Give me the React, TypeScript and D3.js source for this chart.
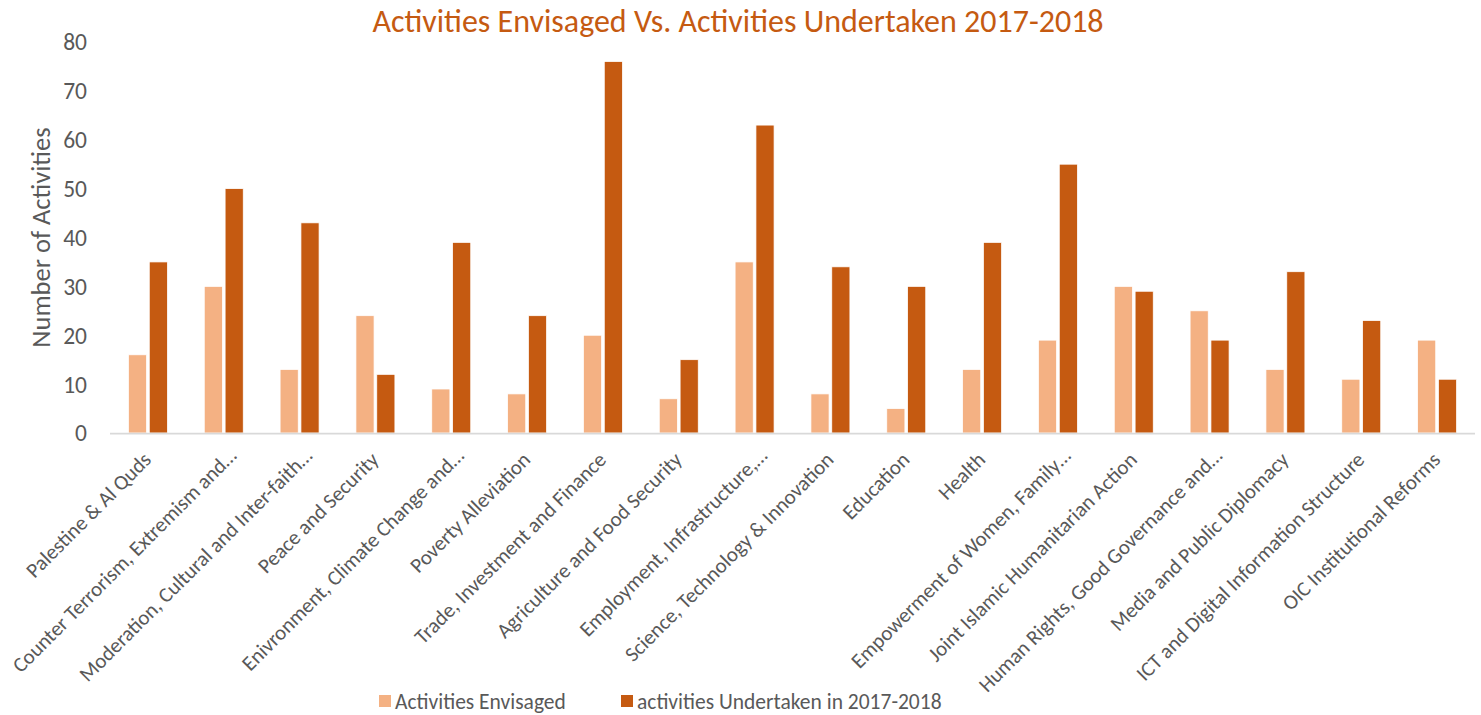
import React from "react";
import * as d3 from "d3";

const categories = [
  "Palestine & Al Quds",
  "Counter Terrorism, Extremism and…",
  "Moderation, Cultural and Inter-faith…",
  "Peace and Security",
  "Enivronment, Climate Change and…",
  "Poverty Alleviation",
  "Trade, Investment and Finance",
  "Agriculture and Food Security",
  "Employment, Infrastructure,…",
  "Science, Technology & Innovation",
  "Education",
  "Health",
  "Empowerment of Women, Family…",
  "Joint Islamic Humanitarian Action",
  "Human Rights, Good Governance and…",
  "Media and Public Diplomacy",
  "ICT and Digital Information Structure",
  "OIC Institutional Reforms",
];

const envisaged = [16, 30, 13, 24, 9, 8, 20, 7, 35, 8, 5, 13, 19, 30, 25, 13, 11, 19];
const undertaken = [35, 50, 43, 12, 39, 24, 76, 15, 63, 34, 30, 39, 55, 29, 19, 33, 23, 11];

const seriesNames = ["Activities Envisaged", "activities Undertaken in 2017-2018"];
const seriesColors = ["#F4B183", "#C55A11"];
const yTicks = [0, 10, 20, 30, 40, 50, 60, 70, 80];

const W = 1481;
const H = 715;
const FONT = "Calibri, Carlito, Lato, 'Open Sans', sans-serif";
const TEXT = "#595959";

export default function App() {
  const left = 110;
  const right = 1475;
  const x = d3.scaleBand<string>().domain(categories).range([left, right]).padding(0);
  const y = d3.scaleLinear().domain([0, 80]).range([433, 42]);
  const step = x.bandwidth();
  const inner = d3
    .scaleBand<number>()
    .domain([0, 1])
    .range([-step * 0.257, step * 0.257])
    .paddingInner(0.13);
  const series = [envisaged, undertaken];

  return (
    <svg
      width={W}
      height={H}
      style={{ position: "absolute", left: 0, top: 0, background: "#fff" }}
      fontFamily={FONT}
    >
      <text x={738} y={32} textAnchor="middle" fontSize={32} fill="#C55A11">
        Activities Envisaged Vs. Activities Undertaken 2017-2018
      </text>

      {yTicks.map((t) => (
        <text key={t} x={87} y={y(t)} dy="0.36em" textAnchor="end" fontSize={23.5} fill={TEXT}>
          {t}
        </text>
      ))}

      <text
        transform={`translate(50,${y(40)}) rotate(-90)`}
        textAnchor="middle"
        fontSize={26.5}
        fill={TEXT}
      >
        Number of Activities
      </text>

      {series.map((vals, si) =>
        vals.map((v, i) => {
          const cx = (x(categories[i]) as number) + step / 2;
          return (
            <rect
              key={`${si}-${i}`}
              x={cx + (inner(si) as number)}
              y={y(v)}
              width={inner.bandwidth()}
              height={y(0) - y(v)}
              fill={seriesColors[si]}
              stroke="#fff"
              strokeWidth={0.75}
            />
          );
        })
      )}

      <line x1={left} x2={right} y1={y(0) + 0.5} y2={y(0) + 0.5} stroke="#D9D9D9" strokeWidth={1.75} />

      {categories.map((c) => {
        const cx = (x(c) as number) + step / 2;
        const trunc = c.endsWith("…");
        const ax = trunc ? cx + 14 : cx + 4.5;
        const ay = trunc ? y(0) + 24 : y(0) + 28;
        return (
          <text
            key={c}
            transform={`translate(${ax},${ay}) rotate(-45)`}
            textAnchor="end"
            fontSize={21}
            fill={TEXT}
          >
            {c}
          </text>
        );
      })}

      {seriesNames.map((n, i) => {
        const lx = i === 0 ? 379 : 621;
        return (
          <g key={n}>
            <rect x={lx} y={695} width={12} height={12} fill={seriesColors[i]} />
            <text x={lx + 16} y={709} fontSize={21.5} fill={TEXT}>
              {n}
            </text>
          </g>
        );
      })}
    </svg>
  );
}
